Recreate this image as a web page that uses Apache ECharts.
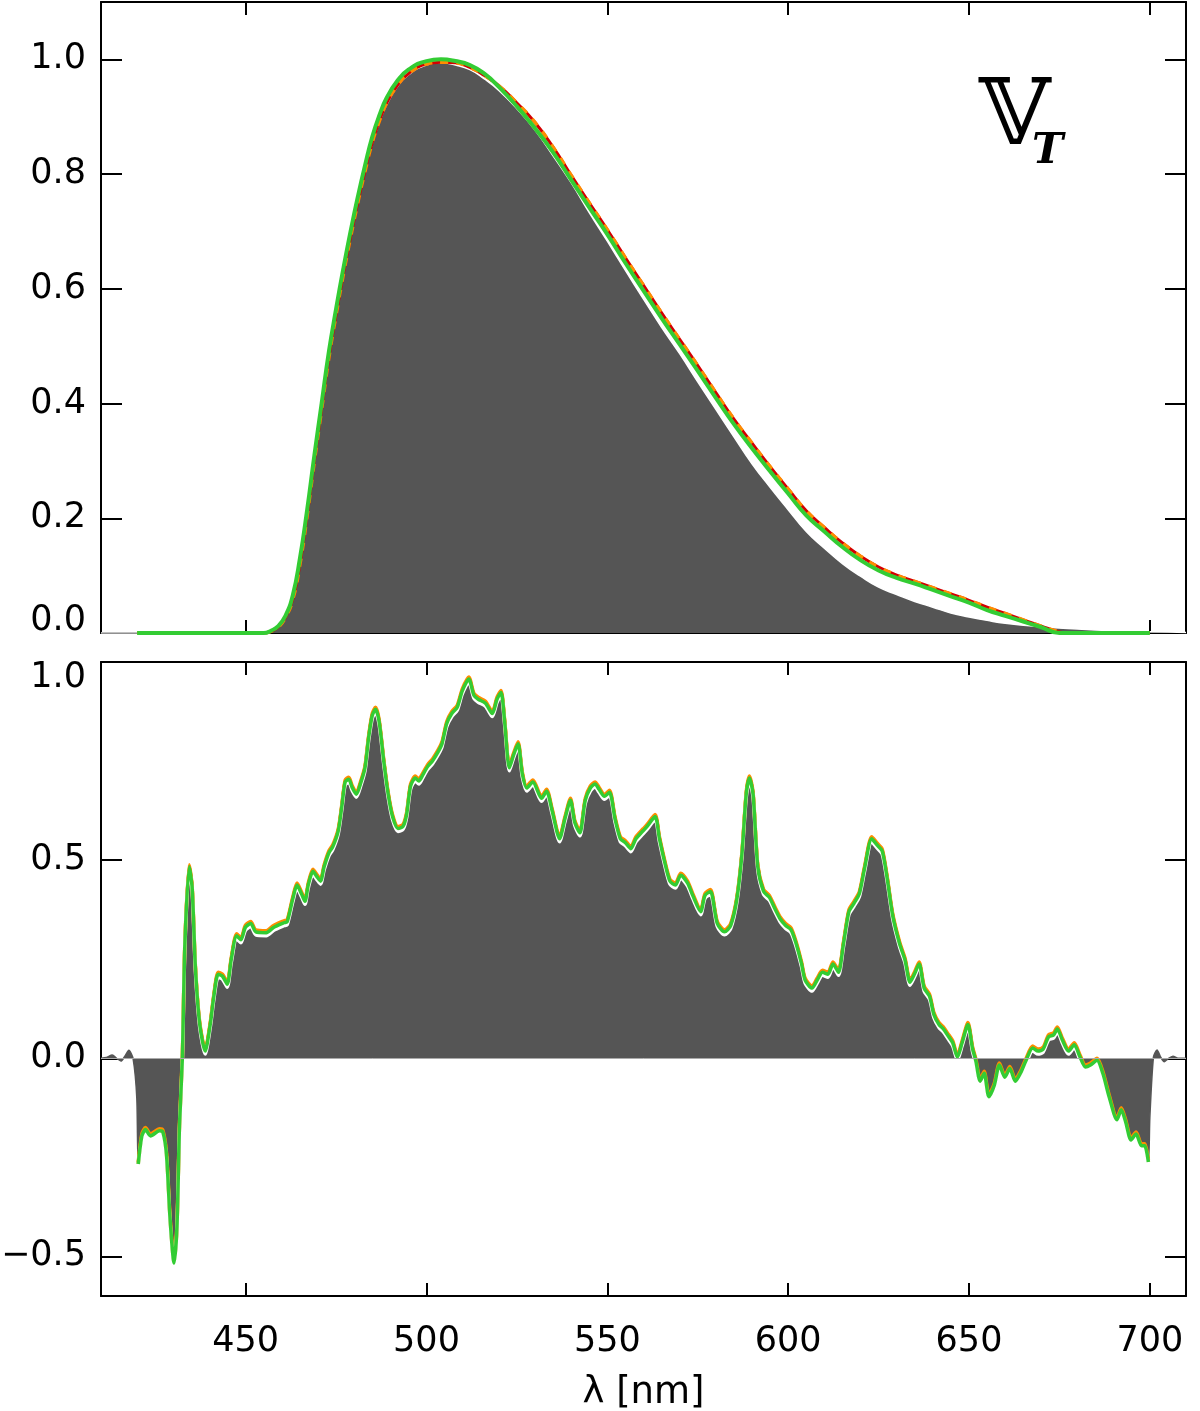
<!DOCTYPE html>
<html>
<head>
<meta charset="utf-8">
<script src="https://cdn.jsdelivr.net/npm/echarts@6/dist/echarts.min.js"></script>
<style>
  html, body { margin: 0; background: #fff; }
  #chart { width: 1200px; height: 1411px; }
</style>
</head>
<body>
<div id="chart"></div>
<script>
// tick positions
const xTicks = [450, 500, 550, 600, 650, 700];
const yTicksTop = [0, 0.2, 0.4, 0.6, 0.8, 1.0];
const yTicksBot = [-0.5, 0, 0.5, 1.0];

// top panel: passband curves (wavelength in nm)
const topWl = [420, 455, 457, 459, 461, 463, 465, 467, 469, 471, 473, 475, 477, 479, 481, 483, 485, 487, 489, 492, 495, 500, 504, 508, 512, 516, 520, 525, 530, 535, 540, 545, 550, 555, 560, 565, 570, 575, 580, 585, 590, 595, 600, 605, 610, 615, 620, 625, 630, 635, 640, 645, 650, 655, 660, 665, 670, 675, 677, 700];
const topGreen = [0, 0, 0.004, 0.012, 0.03, 0.065, 0.13, 0.215, 0.31, 0.4, 0.49, 0.565, 0.635, 0.70, 0.76, 0.815, 0.865, 0.903, 0.933, 0.963, 0.982, 0.997, 1.0, 0.997, 0.99, 0.975, 0.952, 0.918, 0.88, 0.838, 0.79, 0.742, 0.695, 0.645, 0.597, 0.549, 0.503, 0.457, 0.41, 0.364, 0.322, 0.282, 0.243, 0.205, 0.177, 0.15, 0.127, 0.109, 0.096, 0.086, 0.075, 0.064, 0.053, 0.04, 0.03, 0.02, 0.01, 0.0, 0, 0];
const topRef = [0, 0, 0.003, 0.01, 0.027, 0.058, 0.12, 0.205, 0.3, 0.39, 0.48, 0.555, 0.625, 0.69, 0.75, 0.805, 0.855, 0.893, 0.924, 0.955, 0.975, 0.992, 0.995, 0.994, 0.986, 0.972, 0.954, 0.924, 0.89, 0.847, 0.798, 0.75, 0.703, 0.654, 0.606, 0.558, 0.512, 0.466, 0.419, 0.373, 0.331, 0.29, 0.251, 0.213, 0.184, 0.157, 0.134, 0.115, 0.101, 0.09, 0.079, 0.068, 0.057, 0.045, 0.034, 0.023, 0.012, 0.002, 0, 0];
const topGrayWl = [410, 455, 457, 459, 461, 463, 465, 467, 469, 471, 473, 475, 477, 479, 481, 483, 485, 487, 489, 492, 495, 500, 504, 508, 512, 516, 520, 525, 530, 535, 540, 545, 550, 555, 560, 565, 570, 575, 580, 585, 590, 595, 600, 605, 610, 615, 620, 625, 630, 635, 640, 645, 650, 655, 660, 670, 680, 690, 700, 710];
const topGray = [0, 0, 0.003, 0.01, 0.027, 0.058, 0.12, 0.205, 0.3, 0.39, 0.48, 0.555, 0.625, 0.69, 0.75, 0.805, 0.853, 0.891, 0.921, 0.953, 0.973, 0.99, 0.994, 0.99, 0.982, 0.966, 0.946, 0.914, 0.877, 0.832, 0.785, 0.733, 0.683, 0.632, 0.582, 0.533, 0.487, 0.438, 0.39, 0.342, 0.295, 0.254, 0.215, 0.177, 0.148, 0.121, 0.099, 0.08, 0.067, 0.055, 0.045, 0.035, 0.028, 0.022, 0.017, 0.011, 0.007, 0.004, 0.002, 0.001];

// bottom panel: weighted spectrum
const botWl = [420.3, 421.3, 422.3, 423.7, 426.2, 427.1, 428.1, 429.1, 430.2, 431.0, 431.7, 432.5, 433.2, 434.4, 435.2, 436.1, 437.3, 438.8, 440.2, 441.2, 442.4, 443.6, 444.9, 446.0, 447.5, 448.7, 449.9, 451.4, 452.8, 455.7, 457.7, 460.6, 461.5, 463.0, 464.2, 465.4, 466.4, 467.3, 468.6, 469.8, 470.7, 471.7, 473.0, 474.1, 475.6, 476.6, 477.5, 478.5, 479.5, 480.6, 481.9, 483.0, 484.0, 485.0, 485.9, 486.9, 488.2, 489.4, 490.6, 492.1, 493.5, 494.5, 495.6, 496.9, 497.9, 498.8, 500.3, 501.7, 503.2, 504.3, 505.6, 507.0, 508.5, 509.9, 511.7, 513.1, 514.3, 516.3, 518.2, 519.5, 520.6, 521.6, 522.9, 524.0, 525.3, 526.5, 527.7, 529.4, 531.8, 533.2, 534.7, 536.8, 538.3, 539.8, 541.0, 542.4, 543.9, 545.3, 546.6, 547.7, 549.2, 550.6, 552.1, 553.6, 555.0, 556.5, 557.9, 559.9, 561.0, 563.2, 564.4, 565.9, 567.3, 568.8, 570.3, 572.2, 573.6, 575.8, 577.0, 578.5, 580.4, 582.4, 584.1, 585.8, 587.2, 588.4, 589.3, 590.3, 591.6, 593.2, 594.8, 596.4, 597.9, 599.3, 600.8, 602.2, 603.7, 604.7, 606.6, 608.0, 609.5, 611.0, 612.4, 613.9, 615.3, 616.8, 618.2, 619.7, 621.1, 623.1, 624.5, 626.0, 627.4, 628.9, 630.8, 632.3, 633.7, 634.9, 636.2, 637.6, 639.1, 640.3, 641.7, 642.9, 644.4, 645.5, 646.8, 648.1, 649.7, 651.0, 651.9, 653.1, 654.2, 655.5, 657.0, 658.4, 659.9, 661.3, 662.8, 664.2, 665.7, 667.6, 669.1, 670.5, 672.0, 673.4, 674.4, 675.9, 677.5, 679.1, 680.7, 682.2, 683.6, 685.4, 687.0, 688.8, 690.9, 692.1, 693.3, 694.8, 696.2, 697.7, 698.6, 699.6];
const botGreen = [-0.267, -0.196, -0.18, -0.196, -0.183, -0.186, -0.242, -0.405, -0.517, -0.425, -0.17, 0.003, 0.289, 0.483, 0.43, 0.228, 0.085, 0.018, 0.085, 0.156, 0.212, 0.207, 0.187, 0.248, 0.309, 0.299, 0.33, 0.34, 0.319, 0.317, 0.33, 0.342, 0.345, 0.401, 0.437, 0.416, 0.396, 0.437, 0.472, 0.457, 0.447, 0.483, 0.518, 0.534, 0.574, 0.636, 0.697, 0.704, 0.682, 0.666, 0.697, 0.733, 0.809, 0.865, 0.881, 0.85, 0.748, 0.666, 0.61, 0.58, 0.585, 0.615, 0.687, 0.707, 0.70, 0.712, 0.736, 0.751, 0.773, 0.794, 0.845, 0.87, 0.886, 0.927, 0.957, 0.916, 0.906, 0.896, 0.87, 0.906, 0.923, 0.85, 0.733, 0.763, 0.794, 0.717, 0.682, 0.697, 0.656, 0.674, 0.626, 0.554, 0.605, 0.651, 0.595, 0.569, 0.651, 0.682, 0.692, 0.679, 0.661, 0.671, 0.605, 0.554, 0.544, 0.529, 0.554, 0.574, 0.585, 0.61, 0.554, 0.493, 0.447, 0.437, 0.462, 0.442, 0.411, 0.37, 0.411, 0.421, 0.34, 0.319, 0.335, 0.401, 0.513, 0.666, 0.707, 0.666, 0.483, 0.421, 0.406, 0.376, 0.35, 0.335, 0.324, 0.289, 0.238, 0.197, 0.177, 0.197, 0.217, 0.212, 0.238, 0.217, 0.289, 0.37, 0.391, 0.416, 0.478, 0.554, 0.539, 0.523, 0.452, 0.36, 0.289, 0.248, 0.192, 0.212, 0.238, 0.177, 0.156, 0.11, 0.085, 0.074, 0.054, 0.039, 0.003, 0.039, 0.085, 0.023, -0.007, -0.058, -0.038, -0.097, -0.068, -0.017, -0.048, -0.026, -0.058, -0.038, -0.007, 0.026, 0.018, 0.023, 0.054, 0.059, 0.074, 0.044, 0.018, 0.034, 0.003, -0.022, -0.017, -0.005, -0.038, -0.099, -0.155, -0.13, -0.16, -0.206, -0.191, -0.221, -0.221, -0.262];
// gray fill beyond the line ends
const botGrayLeftWl = [410, 411.5, 413.1, 414.3, 415.5, 416.6, 417.7, 418.9, 419.9];
const botGrayLeft = [0, 0.002, 0.008, 0.0, -0.007, 0.005, 0.02, -0.002, -0.1];
const botGrayRightWl = [700.0, 701.0, 702.0, 703.0, 704.0, 704.9, 706.4, 707.8, 710];
const botGrayRight = [-0.15, 0.003, 0.021, 0.003, -0.009, -0.002, 0.005, 0, 0];

const zip = (xs, ys) => xs.map((x, i) => [x, ys[i]]);

const FONT = 'DejaVu Sans';
const labelStyle = { color: '#000', fontSize: 35, fontFamily: FONT };
const GREEN = '#33cc33';
const ORANGE = '#ff8c00';
const RED = '#d40000';

function xAxes(gridIndex, showLabels) {
  const base = {
    gridIndex: gridIndex,
    type: 'value',
    min: 410,
    max: 710,
    axisLine: { show: true, onZero: false, lineStyle: { color: '#000', width: 2 } },
    axisTick: { inside: true, length: 13, customValues: xTicks, lineStyle: { color: '#000', width: 2 } },
    splitLine: { show: false },
  };
  return [
    Object.assign({}, base, {
      position: 'bottom',
      axisLabel: Object.assign({ show: showLabels, margin: 28, customValues: xTicks }, labelStyle),
      name: showLabels ? 'λ [nm]' : '',
      nameLocation: 'middle',
      nameGap: 79,
      nameTextStyle: Object.assign({}, labelStyle, { fontSize: 37 }),
    }),
    Object.assign({}, base, { position: 'top', axisLabel: { show: false } }),
  ];
}

function fmt(v) {
  const s = Math.abs(v).toFixed(1);
  return v < 0 ? '\u2212' + s : s;
}

function yAxes(gridIndex, min, max, ticks, formatter, rich) {
  const base = {
    gridIndex: gridIndex,
    type: 'value',
    min: min,
    max: max,
    axisLine: { show: true, onZero: false, lineStyle: { color: '#000', width: 2 } },
    axisTick: { inside: true, length: 21, customValues: ticks, lineStyle: { color: '#000', width: 2 } },
    splitLine: { show: false },
  };
  return [
    Object.assign({}, base, {
      position: 'left',
      axisLabel: Object.assign({ margin: 15, customValues: ticks, formatter: formatter, rich: rich }, labelStyle),
    }),
    Object.assign({}, base, { position: 'right', axisLabel: { show: false } }),
  ];
}

const chart = echarts.init(document.getElementById('chart'), null, { renderer: 'canvas' });

const option = {
  backgroundColor: '#fff',
  animation: false,
  grid: [
    { left: 101, right: 14, top: 2, height: 631, outerBoundsMode: 'none' },
    { left: 101, right: 14, top: 662, height: 634, outerBoundsMode: 'none' },
  ],
  xAxis: [].concat(xAxes(0, false), xAxes(1, true)),
  yAxis: [].concat(
    yAxes(0, 0, 1.1, yTicksTop,
      (v) => (v === 0 ? '{up|0.0}' : fmt(v)),
      { up: Object.assign({ padding: [0, 0, 24, 0] }, labelStyle) }),
    yAxes(1, -0.6, 1.0, yTicksBot,
      (v) => (v === 1 ? '{dn|1.0}' : fmt(v)),
      { dn: Object.assign({ padding: [32, 0, 0, 0] }, labelStyle) })
  ),
  graphic: [
    {
      type: 'text',
      left: 979,
      top: 74,
      style: { text: '\u{1D54D}', font: '92px "DejaVu Serif"', fill: '#000' },
    },
    {
      type: 'text',
      left: 1032,
      top: 131,
      style: { text: 'T', font: 'italic bold 42px "DejaVu Serif"', fill: '#000' },
    },
  ],
  series: [
    {
      type: 'line',
      xAxisIndex: 0,
      yAxisIndex: 0,
      data: zip(topGrayWl, topGray),
      smooth: true,
      symbol: 'none',
      lineStyle: { color: '#fff', width: 1.5 },
      areaStyle: { color: '#555555', opacity: 1 },
      z: 1,
    },
    {
      type: 'line',
      xAxisIndex: 0,
      yAxisIndex: 0,
      data: zip(topWl, topRef),
      smooth: true,
      symbol: 'none',
      lineStyle: { color: RED, width: 3 },
      z: 2,
    },
    {
      type: 'line',
      xAxisIndex: 0,
      yAxisIndex: 0,
      data: zip(topWl, topRef),
      smooth: true,
      symbol: 'none',
      lineStyle: { color: ORANGE, width: 3.5, type: [8, 8] },
      z: 3,
    },
    {
      type: 'line',
      xAxisIndex: 0,
      yAxisIndex: 0,
      data: zip(topWl, topGreen),
      smooth: true,
      symbol: 'none',
      lineStyle: { color: GREEN, width: 4 },
      z: 4,
    },
    {
      type: 'line',
      xAxisIndex: 2,
      yAxisIndex: 2,
      data: [].concat(zip(botGrayLeftWl, botGrayLeft), zip(botWl, botGreen), zip(botGrayRightWl, botGrayRight)),
      smooth: 0.25,
      symbol: 'none',
      lineStyle: { color: '#555555', width: 1.5 },
      areaStyle: { color: '#555555', opacity: 1 },
      markLine: {
        silent: true,
        symbol: 'none',
        label: { show: false },
        lineStyle: { color: '#aaaaaa', width: 1, type: 'solid' },
        data: [{ yAxis: 0 }],
      },
      z: 1,
    },
    {
      type: 'line',
      xAxisIndex: 2,
      yAxisIndex: 2,
      data: zip(botWl, botGreen),
      smooth: 0.25,
      symbol: 'none',
      lineStyle: { color: ORANGE, width: 3.5, shadowColor: ORANGE, shadowBlur: 0, shadowOffsetY: -2 },
      z: 2,
    },
    {
      type: 'line',
      xAxisIndex: 2,
      yAxisIndex: 2,
      data: zip(botWl, botGreen),
      smooth: 0.25,
      symbol: 'none',
      lineStyle: { color: GREEN, width: 3.5, shadowColor: '#ffffff', shadowBlur: 0, shadowOffsetY: 3 },
      z: 3,
    },
  ],
};

chart.setOption(option);
</script>
</body>
</html>
